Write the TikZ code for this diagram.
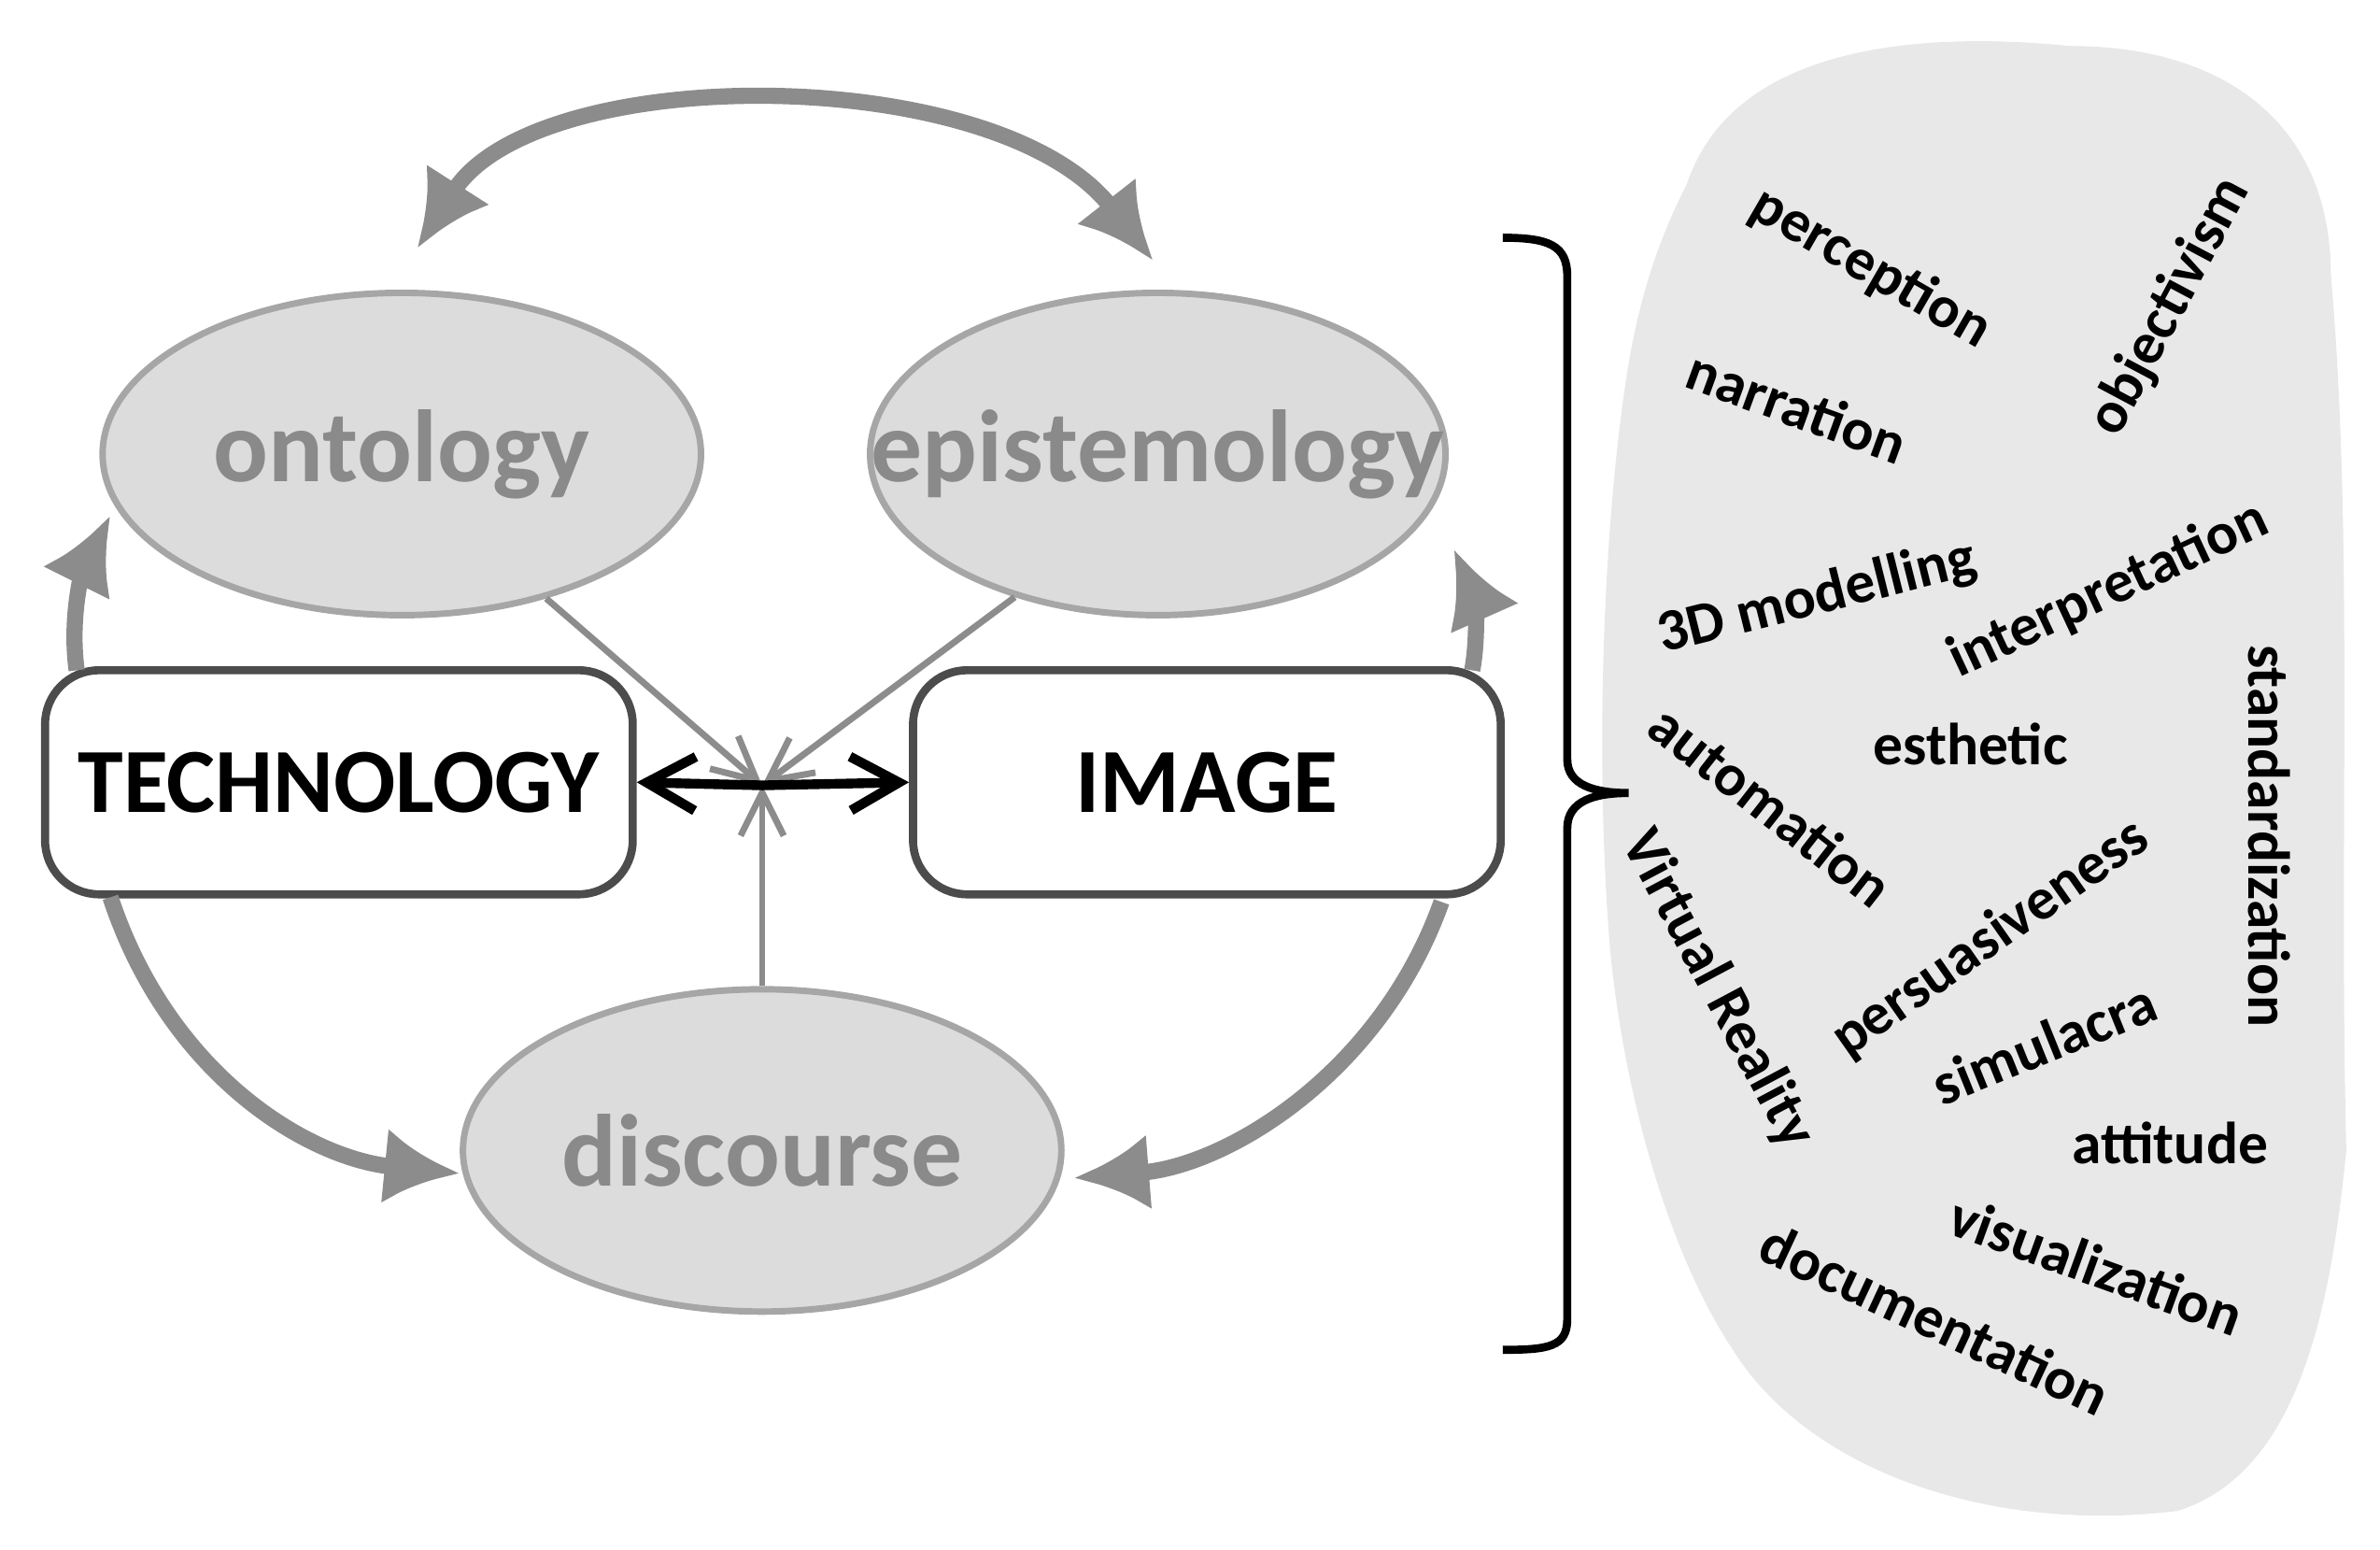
\documentclass[tikz,border=0pt]{standalone}
\usepackage{fontspec}
\setmainfont{Carlito}
\usetikzlibrary{arrows.meta,shapes.geometric}
\definecolor{ef}{HTML}{DCDCDC}
\definecolor{eb}{HTML}{A6A6A6}
\definecolor{et}{HTML}{8A8A8A}
\definecolor{ar}{HTML}{8C8C8C}
\definecolor{cl}{HTML}{E8E8E8}
\newcommand{\zw}[1]{\makebox[0pt]{#1}}
\begin{document}
\begin{tikzpicture}[x=0.01cm,y=-0.01cm,
 ell/.style={ellipse,fill=ef,draw=eb,line width=1.2pt,text=et,font=\bfseries\fontsize{19}{22}\selectfont,inner sep=0pt},
 box/.style={draw=black!70,line width=1.5pt,rounded corners=10pt,fill=white,minimum width=3.83cm,minimum height=1.46cm,font=\bfseries\fontsize{17}{20}\selectfont},
 big/.style={draw=ar,line width=3pt,-{Latex[length=14pt,width=14pt]}},
 thin/.style={draw=ar,line width=1.2pt,-{Straight Barb[length=8pt,width=8pt]}},
 w/.style={font=\bfseries\fontsize{11}{13}\selectfont,inner sep=1pt}]
\useasboundingbox (0,0) rectangle (1552,1010);
\path[fill=cl] (1100,120) .. controls (1130,30) and (1250,20) .. (1350,30) .. controls (1450,30) and (1520,80) .. (1520,180)
 .. controls (1535,350) and (1525,550) .. (1530,750) .. controls (1520,850) and (1500,960) .. (1420,985)
 .. controls (1300,1000) and (1180,960) .. (1130,880) .. controls (1090,820) and (1060,720) .. (1050,620)
 .. controls (1040,500) and (1045,350) .. (1060,250) .. controls (1070,180) and (1090,140) .. (1100,120) -- cycle;
\node[ell,minimum width=3.9cm,minimum height=2.1cm] (ont) at (262,296) {\zw{ontology}};
\node[ell,minimum width=3.75cm,minimum height=2.1cm] (epi) at (755,296) {\zw{epistemology}};
\node[ell,minimum width=3.9cm,minimum height=2.1cm] (dis) at (497,750) {\zw{discourse}};
\node[box] (tech) at (221,510) {TECHNOLOGY};
\node[box] (img) at (787,510) {IMAGE};
\coordinate (c) at (497,512);
\draw[thin] (ont.-45) -- (c);
\draw[thin] (epi.-135) -- (c);
\draw[thin] (dis.north) -- (c);
\draw[black,line width=1.8pt,-{Straight Barb[length=9pt,width=10pt]}] (c) -- (tech.east);
\draw[black,line width=1.8pt,-{Straight Barb[length=9pt,width=10pt]}] (c) -- (img.west);
\draw[big,{Latex[length=14pt,width=14pt]}-{Latex[length=14pt,width=14pt]}] (272,162) .. controls (350,40) and (650,40) .. (752,170);
\draw[big] (50,437) .. controls (45,400) and (55,370) .. (72,336);
\draw[big] (960,437) .. controls (965,410) and (960,385) .. (948,358);
\draw[big] (72,585) .. controls (110,700) and (200,755) .. (300,765);
\draw[big] (940,588) .. controls (900,700) and (800,760) .. (700,768);
\draw[line width=1.5pt] (980,155) .. controls (1010,155) and (1022,160) .. (1022,180) -- (1022,495) .. controls (1022,512) and (1040,517) .. (1062,517)
 .. controls (1040,517) and (1022,522) .. (1022,540) -- (1022,860) .. controls (1022,878) and (1010,880) .. (980,880);
\node[w,rotate=-30] (p1) at (1220,175) {perception};
\node[w,rotate=62] (p2) at (1415,200) {objectivism};
\node[w,rotate=-20] (p3) at (1172,265) {narration};
\node[w,rotate=14] (p4) at (1185,390) {3D modelling};
\node[w,rotate=25] (p5) at (1375,385) {interpretation};
\node[w,rotate=-90] (p6) at (1480,545) {standardization};
\node[w] (p7) at (1285,485) {esthetic};
\node[w,rotate=-38] (p8) at (1155,525) {automation};
\node[w,rotate=-62] (p9) at (1120,645) {Virtual Reality};
\node[w,rotate=35] (p10) at (1298,612) {persuasiveness};
\node[w,rotate=22] (p11) at (1333,680) {simulacra};
\node[w] (p12) at (1415,745) {attitude};
\node[w,rotate=-20] (p13) at (1367,825) {visualization};
\node[w,rotate=-25] (p14) at (1262,860) {documentation};
\end{tikzpicture}
\end{document}
